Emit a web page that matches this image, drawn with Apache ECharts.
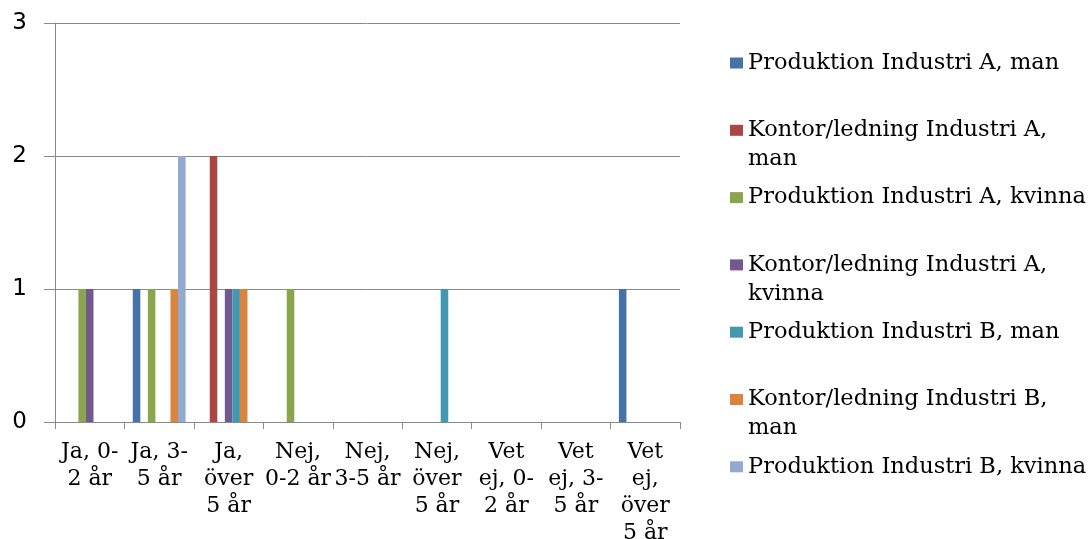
<!DOCTYPE html>
<html>
<head>
<meta charset="utf-8">
<title>Anställningstid per grupp</title>
<script src="https://cdn.jsdelivr.net/npm/echarts@6/dist/echarts.min.js"></script>
<style>
  html, body { margin: 0; padding: 0; background: #ffffff; }
  #chart { width: 1088px; height: 539px; }
</style>
</head>
<body>
<div id="chart"></div>
<script>
// Categories (answer + length of employment) and their wrapped axis labels
const categories = [
  'Ja, 0-2 år', 'Ja, 3-5 år', 'Ja, över 5 år',
  'Nej, 0-2 år', 'Nej, 3-5 år', 'Nej, över 5 år',
  'Vet ej, 0-2 år', 'Vet ej, 3-5 år', 'Vet ej, över 5 år'
];
const tickLabels = [
  'Ja, 0-\n2 år', 'Ja, 3-\n5 år', 'Ja,\növer\n5 år',
  'Nej,\n0-2 år', 'Nej,\n3-5 år', 'Nej,\növer\n5 år',
  'Vet\nej, 0-\n2 år', 'Vet\nej, 3-\n5 år', 'Vet\nej,\növer\n5 år'
];
const yTicks = [0, 1, 2, 3];

// Counts per group
const prodAMan      = [0, 1, 0, 0, 0, 0, 0, 0, 1];
const kontorAMan    = [0, 0, 2, 0, 0, 0, 0, 0, 0];
const prodAKvinna   = [1, 1, 0, 1, 0, 0, 0, 0, 0];
const kontorAKvinna = [1, 0, 1, 0, 0, 0, 0, 0, 0];
const prodBMan      = [0, 0, 1, 0, 0, 1, 0, 0, 0];
const kontorBMan    = [0, 1, 1, 0, 0, 0, 0, 0, 0];
const prodBKvinna   = [0, 2, 0, 0, 0, 0, 0, 0, 0];

const seriesNames = [
  'Produktion Industri A, man',
  'Kontor/ledning Industri A, man',
  'Produktion Industri A, kvinna',
  'Kontor/ledning Industri A, kvinna',
  'Produktion Industri B, man',
  'Kontor/ledning Industri B, man',
  'Produktion Industri B, kvinna'
];
const legendLabels = [
  'Produktion Industri A, man',
  'Kontor/ledning Industri A,\nman',
  'Produktion Industri A, kvinna',
  'Kontor/ledning Industri A,\nkvinna',
  'Produktion Industri B, man',
  'Kontor/ledning Industri B,\nman',
  'Produktion Industri B, kvinna'
];
const seriesValues = [prodAMan, kontorAMan, prodAKvinna, kontorAKvinna, prodBMan, kontorBMan, prodBKvinna];
const colors = ['#4572A7', '#AA4643', '#89A54E', '#71588F', '#4198AF', '#DB843D', '#93A9CF'];

const serif = "'DejaVu Serif', 'Liberation Serif', serif";
const LH = 29;            // legend line height
const legendTop = 63;     // centre of the first legend swatch
const legendStep = 67.3;  // distance between legend entries

const chart = echarts.init(document.getElementById('chart'), null, { renderer: 'canvas' });

// One legend per entry so each sits at its own fixed slot; a wrapped entry gets
// an empty leading line so the swatch lines up with its first text line.
const legends = seriesNames.map((name, i) => {
  const twoLines = legendLabels[i].indexOf('\n') >= 0;
  const centre = legendTop + legendStep * i;
  return {
    data: [name],
    left: 730,
    top: centre - (twoLines ? 1.5 * LH : 0.5 * LH),
    padding: 0,
    icon: 'rect',
    itemWidth: 13,
    itemHeight: 11,
    selectedMode: false,
    formatter: () => (twoLines ? '\u00a0\n' : '') + legendLabels[i],
    textStyle: {
      fontFamily: serif,
      fontSize: 22.5,
      color: '#000000',
      lineHeight: LH
    }
  };
});

chart.setOption({
  animation: false,
  color: colors,
  grid: {
    left: 55, right: 408, top: 23, bottom: 117,
    containLabel: false,
    outerBoundsMode: 'none'
  },
  legend: legends,
  xAxis: {
    type: 'category',
    data: categories,
    boundaryGap: true,
    axisLine: { lineStyle: { color: '#8a8a8a', width: 1 } },
    axisTick: { show: true, length: 7, alignWithLabel: false, lineStyle: { color: '#8a8a8a' } },
    axisLabel: {
      interval: 0,
      margin: 17,
      formatter: (v, idx) => tickLabels[idx],
      fontFamily: serif,
      fontSize: 22,
      lineHeight: 27,
      color: '#000000',
      align: 'center'
    },
    splitLine: { show: false }
  },
  yAxis: {
    type: 'value',
    min: yTicks[0],
    max: yTicks[yTicks.length - 1],
    interval: 1,
    axisLine: { show: true, lineStyle: { color: '#8a8a8a', width: 1 } },
    axisTick: { show: true, length: 11, lineStyle: { color: '#8a8a8a' } },
    axisLabel: {
      margin: 28,
      fontFamily: "'DejaVu Sans', sans-serif",
      fontSize: 23,
      color: '#000000'
    },
    splitLine: { show: true, lineStyle: { color: '#8a8a8a', width: 1 } }
  },
  series: seriesNames.map((name, i) => ({
    name: name,
    type: 'bar',
    data: seriesValues[i],
    barGap: '0%',
    barCategoryGap: '24%',
    itemStyle: { color: colors[i] },
    emphasis: { disabled: true }
  }))
});
</script>
</body>
</html>
